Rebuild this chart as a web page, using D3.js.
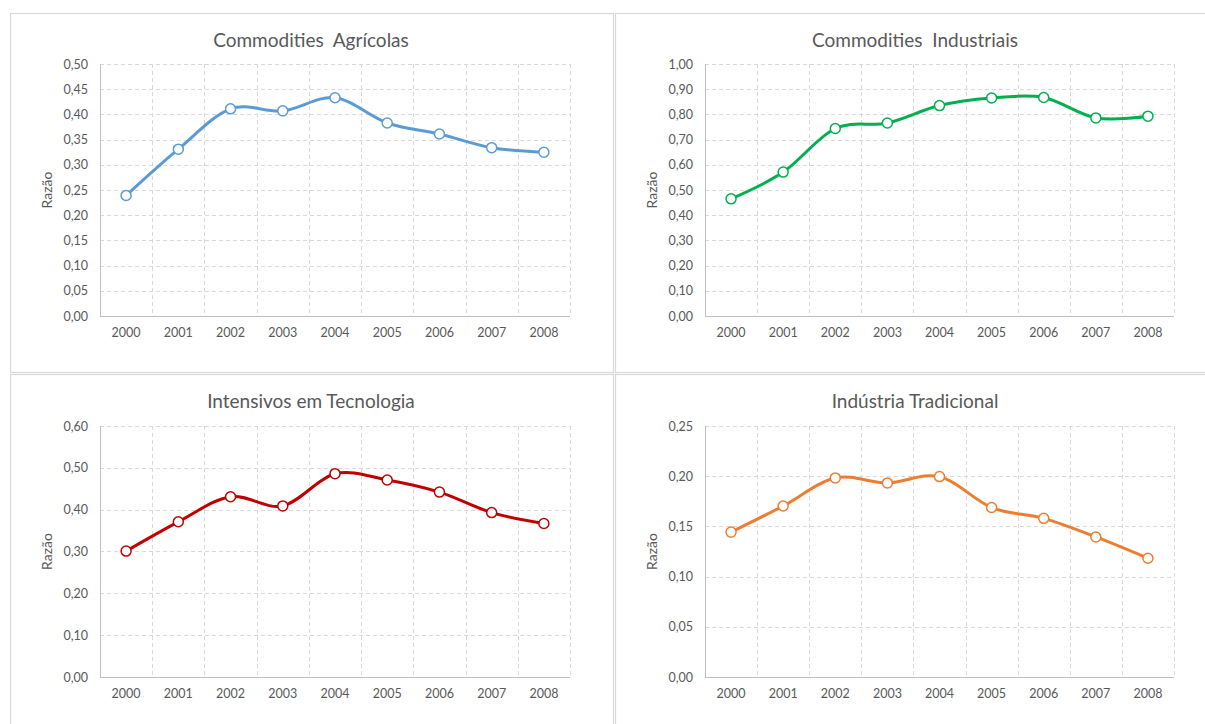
<!DOCTYPE html>
<html><head><meta charset="utf-8">
<script src="https://cdn.jsdelivr.net/npm/d3@7"></script>
<style>
body{margin:0;background:#fff;}
text{font-family:Lato,"Open Sans",sans-serif;fill:#595959;}
</style></head>
<body><svg id="c" width="1205" height="724"></svg>
<script>
const years = ["2000","2001","2002","2003","2004","2005","2006","2007","2008"];
const agricolas = [0.239,0.331,0.411,0.407,0.433,0.383,0.361,0.334,0.325];
const industriais = [0.465,0.571,0.744,0.766,0.835,0.865,0.867,0.786,0.793];
const tecnologia = [0.301,0.371,0.431,0.409,0.486,0.471,0.442,0.393,0.367];
const tradicional = [0.1443,0.1703,0.1983,0.1933,0.1996,0.1688,0.1580,0.1395,0.1183];
const titles = ["Commodities  Agrícolas","Commodities  Industriais","Intensivos em Tecnologia","Indústria Tradicional"];
const yMax = [0.5,1.0,0.6,0.25];
const yStep = [0.05,0.1,0.1,0.05];
const colors = ["#5B9BD5","#00B050","#C00000","#ED7D31"];
const series = [agricolas,industriais,tecnologia,tradicional];
const yLabel = "Razão";

const svg = d3.select("#c");
const panels = [
  {bx:10,by:13,bw:603,bh:359,px:100,py:64,pw:470,ph:252,tx:311,ty:47},
  {bx:615,by:13,bw:600,bh:359,px:705,py:64,pw:469,ph:252,tx:915,ty:47},
  {bx:10,by:374,bw:603,bh:360,px:100,py:426,pw:470,ph:251,tx:311,ty:408},
  {bx:615,by:374,bw:600,bh:360,px:705,py:426,pw:469,ph:251,tx:915,ty:408}
];
const fmt = v => d3.format(".2f")(v).replace(".",",");

panels.forEach((p,i)=>{
  svg.append("rect").attr("x",p.bx+0.5).attr("y",p.by+0.5).attr("width",p.bw).attr("height",p.bh)
    .attr("fill","#fff").attr("stroke","#d9d9d9").attr("stroke-width",1.2);
  const g = svg.append("g").attr("transform",`translate(${p.px},${p.py})`);
  const x = d3.scaleBand().domain(years).range([0,p.pw]);
  const y = d3.scaleLinear().domain([0,yMax[i]]).range([p.ph,0]);
  const ticks = d3.range(0, yMax[i]+yStep[i]/2, yStep[i]);
  g.selectAll(".hg").data(ticks.filter(t=>t>0)).join("line")
    .attr("x1",0).attr("x2",p.pw).attr("y1",d=>Math.round(y(d))+0.5).attr("y2",d=>Math.round(y(d))+0.5)
    .attr("stroke","#d9d9d9").attr("stroke-dasharray","4,3");
  const bounds = years.slice(1).map(d=>x(d)).concat([p.pw]);
  g.selectAll(".vg").data(bounds).join("line")
    .attr("x1",d=>Math.round(d)+0.5).attr("x2",d=>Math.round(d)+0.5).attr("y1",0).attr("y2",p.ph)
    .attr("stroke","#d9d9d9").attr("stroke-dasharray","4,3");
  g.append("line").attr("x1",0.5).attr("x2",0.5).attr("y1",0).attr("y2",p.ph).attr("stroke","#bfbfbf");
  g.append("line").attr("x1",0).attr("x2",p.pw).attr("y1",p.ph+0.5).attr("y2",p.ph+0.5).attr("stroke","#bfbfbf");
  const ya = d3.axisLeft(y).tickValues(ticks).tickFormat(fmt).tickSize(0).tickPadding(12);
  const yg = g.append("g").call(ya);
  yg.select(".domain").remove();
  yg.selectAll("text").style("font-size","12.5px").attr("fill","#595959");
  const xa = d3.axisBottom(x).tickSize(0).tickPadding(12);
  const xg = g.append("g").attr("transform",`translate(0,${p.ph})`).call(xa);
  xg.select(".domain").remove();
  xg.selectAll("text").style("font-size","12.5px").attr("fill","#595959");
  svg.append("text").attr("transform",`translate(${p.bx+42},${p.py+p.ph/2}) rotate(-90)`)
    .attr("text-anchor","middle").style("font-size","14px").text(yLabel);
  svg.append("text").attr("x",p.tx).attr("y",p.ty).attr("text-anchor","middle")
    .style("font-size","19px").style("white-space","pre").text(titles[i]);
  const cx = d => x(d)+x.bandwidth()/2;
  const data = years.map((yr,k)=>({yr,v:series[i][k]}));
  g.append("path").datum(data).attr("fill","none").attr("stroke",colors[i]).attr("stroke-width",3)
    .attr("d",d3.line().x(d=>cx(d.yr)).y(d=>y(d.v)).curve(d3.curveCardinal.tension(0)));
  g.selectAll(".pt").data(data).join("circle").attr("cx",d=>cx(d.yr)).attr("cy",d=>y(d.v)).attr("r",5)
    .attr("fill","#fff").attr("stroke",colors[i]).attr("stroke-width",1.5);
});
</script></body></html>
